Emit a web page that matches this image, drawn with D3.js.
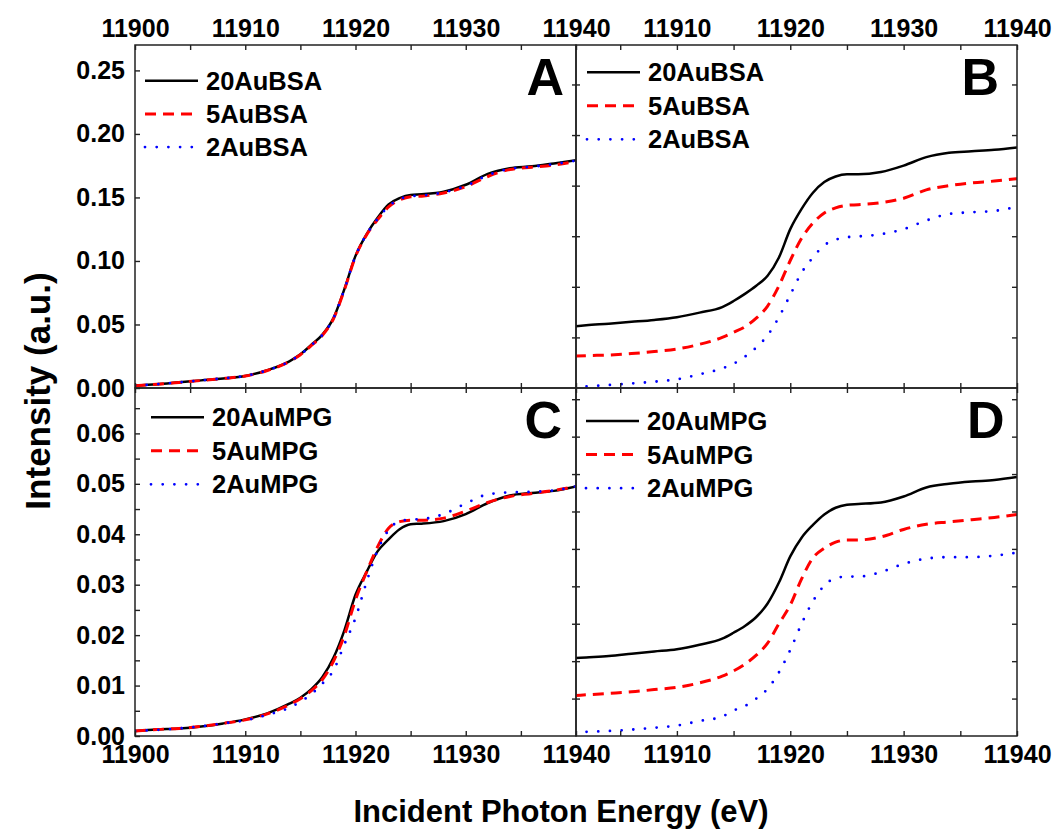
<!DOCTYPE html>
<html>
<head>
<meta charset="utf-8">
<script src="https://cdn.jsdelivr.net/npm/d3@7"></script>
<style>
  body { margin: 0; background: #fff; }
  svg text { font-family: "Liberation Sans", Arial, sans-serif; font-weight: bold; fill: #000; }
</style>
</head>
<body>
<div id="chart"></div>
<script>
// energy grids (eV) - left panels start at 11900, right ones at 11901
const energyL = [11900, 11902, 11904, 11906, 11908, 11910, 11912, 11914, 11915, 11916, 11917, 11918, 11919, 11920, 11921, 11922, 11923, 11924, 11925, 11926, 11928, 11930, 11932, 11934, 11936, 11938, 11940];
const energyR = [11901, 11902, 11904, 11906, 11908, 11910, 11912, 11914, 11915, 11916, 11917, 11918, 11919, 11920, 11921, 11922, 11923, 11924, 11925, 11926, 11928, 11930, 11932, 11934, 11936, 11938, 11940];

const namesBSA = ["20AuBSA", "5AuBSA", "2AuBSA"];
const namesMPG = ["20AuMPG", "5AuMPG", "2AuMPG"];

// A : BSA, normalised
const bsaA20 = [0.002, 0.003, 0.0045, 0.006, 0.0075, 0.0095, 0.014, 0.021, 0.0265, 0.034, 0.042, 0.055, 0.078, 0.104, 0.121, 0.134, 0.1445, 0.1495, 0.152, 0.1525, 0.1545, 0.160, 0.1685, 0.173, 0.1745, 0.1768, 0.1792];
const bsaA5  = [0.0018, 0.0029, 0.0044, 0.0059, 0.0075, 0.0094, 0.0138, 0.0208, 0.0262, 0.0335, 0.0415, 0.0545, 0.0775, 0.1035, 0.1205, 0.1325, 0.1425, 0.148, 0.1505, 0.151, 0.1535, 0.1585, 0.1665, 0.172, 0.1738, 0.1755, 0.1785];
const bsaA2  = [0.0019, 0.003, 0.0045, 0.006, 0.0076, 0.0095, 0.0139, 0.0209, 0.0263, 0.0337, 0.0418, 0.0548, 0.0778, 0.1038, 0.1208, 0.133, 0.143, 0.1485, 0.151, 0.1515, 0.154, 0.159, 0.1675, 0.1725, 0.1742, 0.1762, 0.179];

// B : BSA, stacked with offsets
const bsaB20 = [0.061, 0.062, 0.0636, 0.0654, 0.0673, 0.070, 0.0745, 0.080, 0.086, 0.093, 0.101, 0.111, 0.129, 0.157, 0.177, 0.193, 0.2035, 0.209, 0.2112, 0.2112, 0.2135, 0.2198, 0.2282, 0.2325, 0.234, 0.2355, 0.2378];
const bsaB5  = [0.0315, 0.032, 0.0326, 0.034, 0.036, 0.0385, 0.0432, 0.050, 0.055, 0.0605, 0.069, 0.081, 0.101, 0.126, 0.148, 0.163, 0.173, 0.178, 0.1805, 0.1812, 0.1832, 0.1875, 0.1958, 0.200, 0.2028, 0.2045, 0.207];
const bsaB2  = [0.001, 0.0016, 0.003, 0.0045, 0.0062, 0.0086, 0.0135, 0.0194, 0.024, 0.031, 0.040, 0.052, 0.070, 0.092, 0.114, 0.129, 0.141, 0.1465, 0.149, 0.1498, 0.152, 0.157, 0.1655, 0.172, 0.1737, 0.175, 0.179];

// C : MPG, normalised
const mpgC20 = [0.0010, 0.0013, 0.0015, 0.0019, 0.0025, 0.0033, 0.0045, 0.0064, 0.0076, 0.0093, 0.0117, 0.0155, 0.021, 0.028, 0.0325, 0.0366, 0.039, 0.041, 0.042, 0.0421, 0.0426, 0.044, 0.0462, 0.0477, 0.0482, 0.0486, 0.0495];
const mpgC5  = [0.0010, 0.0013, 0.0015, 0.0019, 0.0025, 0.0032, 0.0044, 0.0062, 0.0074, 0.0090, 0.0112, 0.0148, 0.0200, 0.0270, 0.0325, 0.0375, 0.0412, 0.0425, 0.0428, 0.0428, 0.0432, 0.0446, 0.0463, 0.0475, 0.0481, 0.0487, 0.0495];
const mpgC2  = [0.0010, 0.0012, 0.0015, 0.0019, 0.0025, 0.0031, 0.0042, 0.0056, 0.0068, 0.0083, 0.0104, 0.0130, 0.0182, 0.0234, 0.0305, 0.0368, 0.0408, 0.0426, 0.0429, 0.0430, 0.0440, 0.0461, 0.0479, 0.0483, 0.0484, 0.0487, 0.0495];

// D : MPG, stacked with offsets
const mpgD20 = [0.0104, 0.0105, 0.0107, 0.0110, 0.0113, 0.0116, 0.0122, 0.0130, 0.0138, 0.0147, 0.0159, 0.0177, 0.0205, 0.0240, 0.0265, 0.0282, 0.0296, 0.0305, 0.0309, 0.0310, 0.0312, 0.0320, 0.0332, 0.0337, 0.0340, 0.0342, 0.0346];
const mpgD5  = [0.0054, 0.0055, 0.0057, 0.0059, 0.0062, 0.0065, 0.0071, 0.0080, 0.0087, 0.0096, 0.0108, 0.0124, 0.0150, 0.0175, 0.0210, 0.0238, 0.0251, 0.0259, 0.0262, 0.0262, 0.0266, 0.0276, 0.0283, 0.0286, 0.0289, 0.0292, 0.0296];
const mpgD2  = [0.0005, 0.00055, 0.00067, 0.00085, 0.0011, 0.0014, 0.0020, 0.0026, 0.0034, 0.0040, 0.0050, 0.0063, 0.0085, 0.0115, 0.0150, 0.0180, 0.0201, 0.0211, 0.0213, 0.0213, 0.0219, 0.0230, 0.0237, 0.0239, 0.0239, 0.0241, 0.0245];

// ticks
const xTicksL = [11900, 11905, 11910, 11915, 11920, 11925, 11930, 11935, 11940];
const xTicksR = [11905, 11910, 11915, 11920, 11925, 11930, 11935, 11940];
const yTicksA = [0, 0.05, 0.10, 0.15, 0.20, 0.25];
const yTicksB = [0.05, 0.10, 0.15, 0.20, 0.25, 0.30];
const yTicksC = [0, 0.005, 0.01, 0.015, 0.02, 0.025, 0.03, 0.035, 0.04, 0.045, 0.05, 0.055, 0.06, 0.065];
const yTicksD = [0.005, 0.01, 0.015, 0.02, 0.025, 0.03, 0.035, 0.04, 0.045];

const colors = ["#000000", "#ff0000", "#0000ff"];
const dashes = [null, "11,7", "0,11.7"];
const widths = [2.5, 3, 2.8];

const svg = d3.select("#chart").append("svg")
    .attr("width", 1057)
    .attr("height", 829);

const panels = [
  {id: "A", x0: 135, x1: 576, y0: 45, y1: 388, xDom: [11900, 11940], yDom: [0, 0.27], energy: energyL,
   series: [bsaA20, bsaA5, bsaA2], names: namesBSA, legend: [10, 35.7, 33.2], letterDx: 12,
   xTicks: xTicksL, yTicks: yTicksA, top: true, side: "left"},
  {id: "B", x0: 576, x1: 1017, y0: 45, y1: 388, xDom: [11901.1, 11940], yDom: [0, 0.339], energy: energyR,
   series: [bsaB20, bsaB5, bsaB2], names: namesBSA, legend: [11, 27.3, 33.5], letterDx: 18,
   xTicks: xTicksR, yTicks: yTicksB, top: true, side: "right"},
  {id: "C", x0: 135, x1: 576, y0: 388, y1: 736, xDom: [11900, 11940], yDom: [0, 0.069], energy: energyL,
   series: [mpgC20, mpgC5, mpgC2], names: namesMPG, legend: [16, 29.3, 33.5], letterDx: 14,
   xTicks: xTicksL, yTicks: yTicksC, top: false, side: "left"},
  {id: "D", x0: 576, x1: 1017, y0: 388, y1: 736, xDom: [11901.1, 11940], yDom: [0, 0.0465], energy: energyR,
   series: [mpgD20, mpgD5, mpgD2], names: namesMPG, legend: [10, 33, 33.6], letterDx: 12.5,
   xTicks: xTicksR, yTicks: yTicksD, top: false, side: "right"}
];

panels.forEach(drawPanel);

function styleAxis(g, labelled) {
  g.attr("font-family", null).attr("font-size", null);
  g.select(".domain").remove();
  g.selectAll(".tick line").attr("stroke", "#222").attr("stroke-width", 1.4);
  g.selectAll(".tick text").style("font-size", "25px");
  if (!labelled) g.selectAll(".tick text").remove();
}

function drawPanel(p) {
  const x = d3.scaleLinear().domain(p.xDom).range([p.x0, p.x1]);
  const y = d3.scaleLinear().domain(p.yDom).range([p.y1, p.y0]);
  const fmtX = d => (d % 10 === 0 ? d : "");

  // clip for the curves
  svg.append("clipPath").attr("id", "clip" + p.id)
    .append("rect")
    .attr("x", p.x0).attr("y", p.y0)
    .attr("width", p.x1 - p.x0).attr("height", p.y1 - p.y0);

  const line = d3.line()
    .x((d, i) => x(p.energy[i]))
    .y(d => y(d))
    .curve(d3.curveMonotoneX);

  p.series.forEach((s, k) => {
    svg.append("path")
      .datum(s)
      .attr("clip-path", `url(#clip${p.id})`)
      .attr("d", line)
      .attr("fill", "none")
      .attr("stroke", colors[k])
      .attr("stroke-width", widths[k])
      .attr("stroke-dasharray", dashes[k])
      .attr("stroke-linecap", k === 2 ? "round" : "butt")
      .attr("stroke-linejoin", "round");
  });

  // top axis
  svg.append("g")
    .attr("transform", `translate(0,${p.y0})`)
    .call(d3.axisTop(x).tickValues(p.xTicks).tickSize(-5).tickPadding(8).tickFormat(fmtX))
    .call(g => styleAxis(g, p.top));

  // bottom axis
  svg.append("g")
    .attr("transform", `translate(0,${p.y1})`)
    .call(d3.axisBottom(x).tickValues(p.xTicks).tickSize(-5).tickPadding(9).tickFormat(fmtX))
    .call(g => styleAxis(g, !p.top));

  if (p.side === "left") {
    const fmtY = p.id === "A" ? d3.format(".2f")
      : (d => (Math.round(d * 1000) % 10 === 0 ? d3.format(".2f")(d) : ""));
    svg.append("g")
      .attr("transform", `translate(${p.x0},0)`)
      .call(d3.axisLeft(y).tickValues(p.yTicks).tickSize(-5).tickPadding(10).tickFormat(fmtY))
      .call(g => styleAxis(g, true));
  } else {
    // left ticks of right panels cross the shared border
    svg.append("g")
      .attr("transform", `translate(${p.x0},0)`)
      .call(d3.axisLeft(y).tickValues(p.yTicks).tickSize(-4))
      .call(g => styleAxis(g, false));
    svg.append("g")
      .attr("transform", `translate(${p.x0},0)`)
      .call(d3.axisLeft(y).tickValues(p.yTicks).tickSize(4))
      .call(g => styleAxis(g, false));
    svg.append("g")
      .attr("transform", `translate(${p.x1},0)`)
      .call(d3.axisRight(y).tickValues(p.yTicks).tickSize(-5))
      .call(g => styleAxis(g, false));
  }

  // frame
  svg.append("rect")
    .attr("x", p.x0).attr("y", p.y0)
    .attr("width", p.x1 - p.x0).attr("height", p.y1 - p.y0)
    .attr("fill", "none")
    .attr("stroke", "#222")
    .attr("stroke-width", 1.5);

  // panel letter
  svg.append("text")
    .attr("x", p.x1 - p.letterDx)
    .attr("y", p.y0 + 50)
    .attr("text-anchor", "end")
    .style("font-size", "52px")
    .text(p.id);

  // legend
  const lg = svg.append("g")
    .attr("transform", `translate(${p.x0 + p.legend[0]},${p.y0 + p.legend[1]})`);
  p.names.forEach((name, k) => {
    const ry = k * p.legend[2];
    lg.append("line")
      .attr("x1", 0).attr("x2", 53)
      .attr("y1", ry).attr("y2", ry)
      .attr("stroke", colors[k])
      .attr("stroke-width", widths[k])
      .attr("stroke-dasharray", dashes[k])
      .attr("stroke-linecap", k === 2 ? "round" : "butt");
    lg.append("text")
      .attr("x", 61)
      .attr("y", ry)
      .attr("dy", "0.36em")
      .style("font-size", "25.5px")
      .text(name);
  });
}

// axis titles
svg.append("text")
  .attr("transform", "translate(50,391) rotate(-90)")
  .attr("text-anchor", "middle")
  .style("font-size", "35px")
  .text("Intensity (a.u.)");

svg.append("text")
  .attr("x", 561)
  .attr("y", 822)
  .attr("text-anchor", "middle")
  .style("font-size", "31px")
  .text("Incident Photon Energy (eV)");
</script>
</body>
</html>
